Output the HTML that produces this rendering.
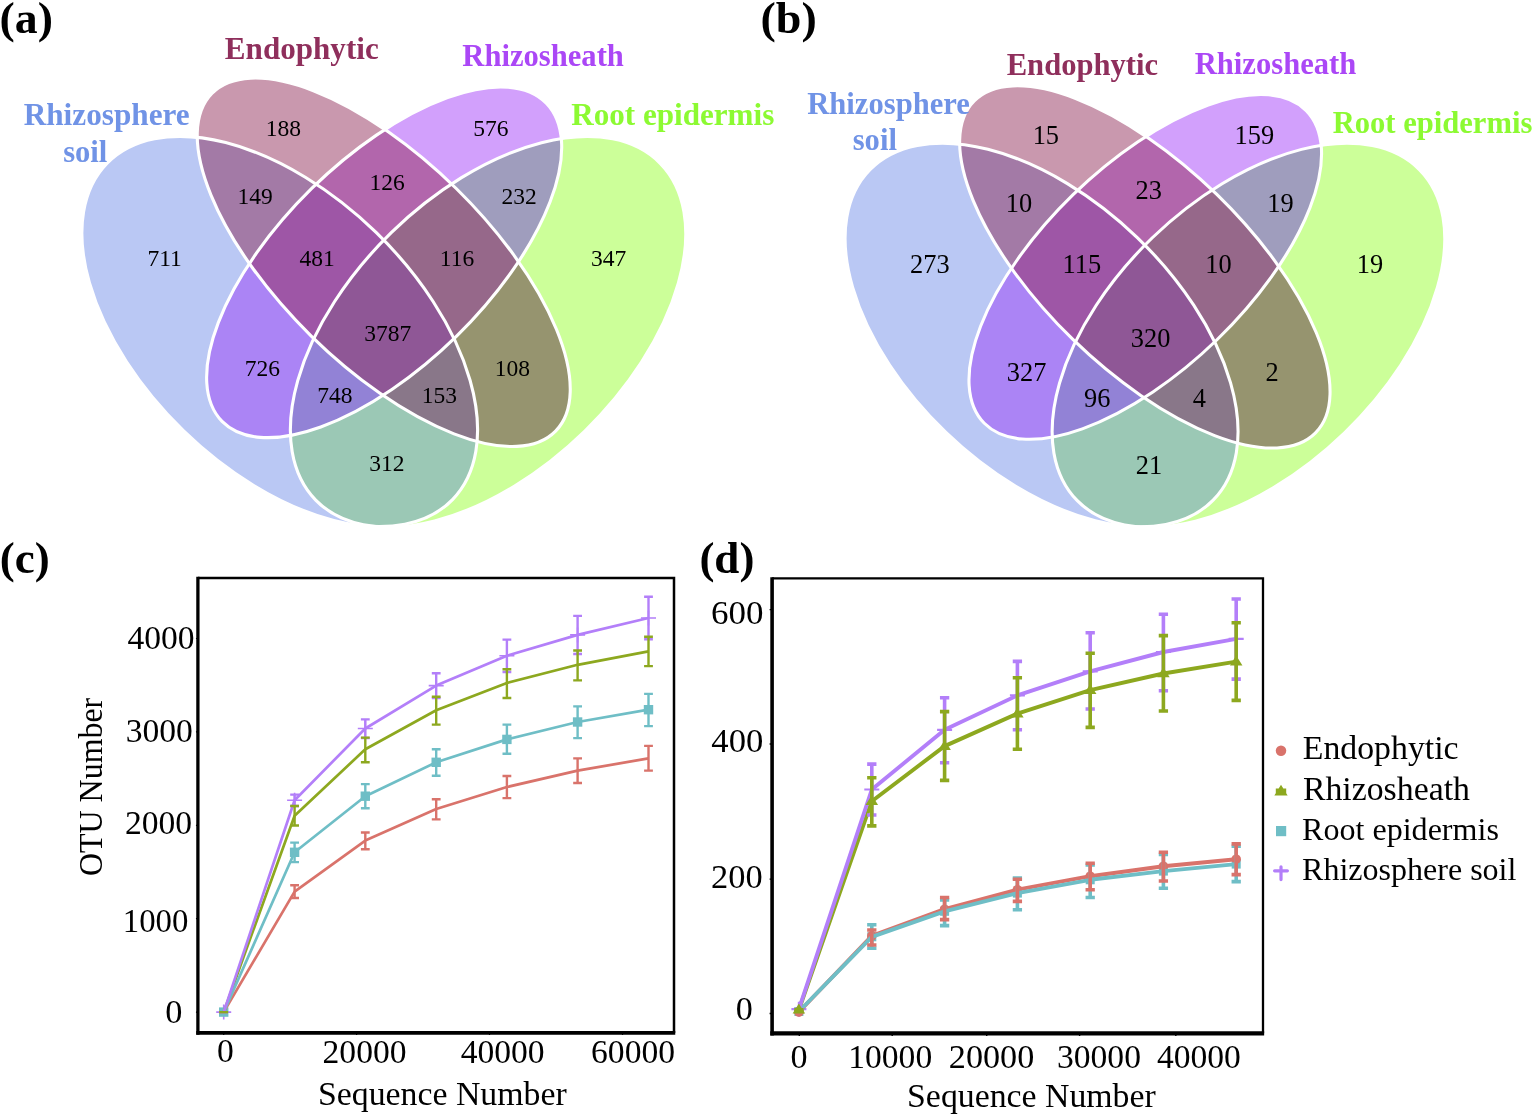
<!DOCTYPE html>
<html lang="en"><head><meta charset="utf-8"><title>Venn diagrams and rarefaction curves</title>
<style>html,body{margin:0;padding:0;background:#fff}body{width:1534px;height:1116px;overflow:hidden}svg{display:block;font-family:'Liberation Serif', 'Times New Roman', Times, serif}text{white-space:pre}</style>
</head><body>
<svg width="1534" height="1116" viewBox="0 0 1534 1116">
<rect width="1534" height="1116" fill="#fff"/>
<g id="venn-a">
<g>
<defs>
<clipPath id="aA"><ellipse cx="279.72" cy="331.52" rx="241.03" ry="138.25" transform="rotate(44.2 279.72 331.52)"/></clipPath>
<clipPath id="aB"><ellipse cx="383.74" cy="262.28" rx="240.9" ry="103.43" transform="rotate(44.49 383.74 262.28)"/></clipPath>
<clipPath id="aC"><ellipse cx="384.16" cy="262.3" rx="227.1" ry="103.44" transform="rotate(135.54 384.16 262.3)"/></clipPath>
<clipPath id="aD"><ellipse cx="488.08" cy="331.81" rx="240.88" ry="138.6" transform="rotate(135.69 488.08 331.81)"/></clipPath>
</defs>
<ellipse cx="279.72" cy="331.52" rx="241.03" ry="138.25" transform="rotate(44.2 279.72 331.52)" fill="#BAC8F4"/>
<ellipse cx="383.74" cy="262.28" rx="240.9" ry="103.43" transform="rotate(44.49 383.74 262.28)" fill="#C998AE"/>
<ellipse cx="384.16" cy="262.3" rx="227.1" ry="103.44" transform="rotate(135.54 384.16 262.3)" fill="#D2A0FC"/>
<ellipse cx="488.08" cy="331.81" rx="240.88" ry="138.6" transform="rotate(135.69 488.08 331.81)" fill="#CCFF99"/>
<g clip-path="url(#aB)"><ellipse cx="279.72" cy="331.52" rx="241.03" ry="138.25" transform="rotate(44.2 279.72 331.52)" fill="#A37AA6"/></g>
<g clip-path="url(#aC)"><ellipse cx="279.72" cy="331.52" rx="241.03" ry="138.25" transform="rotate(44.2 279.72 331.52)" fill="#AB84F5"/></g>
<g clip-path="url(#aD)"><ellipse cx="279.72" cy="331.52" rx="241.03" ry="138.25" transform="rotate(44.2 279.72 331.52)" fill="#9BC8B5"/></g>
<g clip-path="url(#aC)"><ellipse cx="383.74" cy="262.28" rx="240.9" ry="103.43" transform="rotate(44.49 383.74 262.28)" fill="#B266AC"/></g>
<g clip-path="url(#aD)"><ellipse cx="383.74" cy="262.28" rx="240.9" ry="103.43" transform="rotate(44.49 383.74 262.28)" fill="#96946F"/></g>
<g clip-path="url(#aD)"><ellipse cx="384.16" cy="262.3" rx="227.1" ry="103.44" transform="rotate(135.54 384.16 262.3)" fill="#9F9DBD"/></g>
<g clip-path="url(#aB)"><g clip-path="url(#aC)"><ellipse cx="279.72" cy="331.52" rx="241.03" ry="138.25" transform="rotate(44.2 279.72 331.52)" fill="#9E56A6"/></g></g>
<g clip-path="url(#aB)"><g clip-path="url(#aD)"><ellipse cx="279.72" cy="331.52" rx="241.03" ry="138.25" transform="rotate(44.2 279.72 331.52)" fill="#897789"/></g></g>
<g clip-path="url(#aC)"><g clip-path="url(#aD)"><ellipse cx="279.72" cy="331.52" rx="241.03" ry="138.25" transform="rotate(44.2 279.72 331.52)" fill="#9282D6"/></g></g>
<g clip-path="url(#aC)"><g clip-path="url(#aD)"><ellipse cx="383.74" cy="262.28" rx="240.9" ry="103.43" transform="rotate(44.49 383.74 262.28)" fill="#96688A"/></g></g>
<g clip-path="url(#aB)"><g clip-path="url(#aC)"><g clip-path="url(#aD)"><ellipse cx="279.72" cy="331.52" rx="241.03" ry="138.25" transform="rotate(44.2 279.72 331.52)" fill="#8F5796"/></g></g></g>
<ellipse cx="279.72" cy="331.52" rx="241.03" ry="138.25" transform="rotate(44.2 279.72 331.52)" fill="none" stroke="#fff" stroke-width="3.1"/>
<ellipse cx="383.74" cy="262.28" rx="240.9" ry="103.43" transform="rotate(44.49 383.74 262.28)" fill="none" stroke="#fff" stroke-width="3.1"/>
<ellipse cx="384.16" cy="262.3" rx="227.1" ry="103.44" transform="rotate(135.54 384.16 262.3)" fill="none" stroke="#fff" stroke-width="3.1"/>
<ellipse cx="488.08" cy="331.81" rx="240.88" ry="138.6" transform="rotate(135.69 488.08 331.81)" fill="none" stroke="#fff" stroke-width="3.1"/>
</g>
<g fill="#000">
<text x="265.79" y="135.5" font-size="23.5">188</text>
<text x="473.3" y="135.5" font-size="23.5">576</text>
<text x="237.57" y="203.9" font-size="23.5">149</text>
<text x="369.5" y="190.2" font-size="23.5">126</text>
<text x="501.44" y="203.9" font-size="23.5">232</text>
<text x="147.46" y="265.9" font-size="23.5">711</text>
<text x="299.55" y="265.9" font-size="23.5">481</text>
<text x="439.79" y="265.9" font-size="23.5">116</text>
<text x="591.12" y="265.9" font-size="23.5">347</text>
<text x="364.29" y="341" font-size="23.5">3787</text>
<text x="244.66" y="375.7" font-size="23.5">726</text>
<text x="494.69" y="375.7" font-size="23.5">108</text>
<text x="317.2" y="402.6" font-size="23.5">748</text>
<text x="421.67" y="402.6" font-size="23.5">153</text>
<text x="369.36" y="471.3" font-size="23.5">312</text>
</g>
<g font-weight="bold">
<text transform="matrix(1.0215 0 0 1 23.65 124.9)" font-size="30.6" fill="#7093E6">Rhizosphere</text>
<text x="63.15" y="161.8" font-size="30.6" fill="#7093E6">soil</text>
<text transform="matrix(1.0167 0 0 1 224.86 58.6)" font-size="30.6" fill="#8F2F5C">Endophytic</text>
<text x="462.37" y="65.7" font-size="30.6" fill="#AB47F6">Rhizosheath</text>
<text transform="matrix(1.0169 0 0 1 571.26 125)" font-size="30.6" fill="#8CFA32">Root epidermis</text>
</g>
</g>
<g id="venn-b">
<g transform="matrix(0.993 0 0 0.983 763.8 9.1)">
<defs>
<clipPath id="bA"><ellipse cx="279.72" cy="331.52" rx="241.03" ry="138.25" transform="rotate(44.2 279.72 331.52)"/></clipPath>
<clipPath id="bB"><ellipse cx="383.74" cy="262.28" rx="240.9" ry="103.43" transform="rotate(44.49 383.74 262.28)"/></clipPath>
<clipPath id="bC"><ellipse cx="384.16" cy="262.3" rx="227.1" ry="103.44" transform="rotate(135.54 384.16 262.3)"/></clipPath>
<clipPath id="bD"><ellipse cx="488.08" cy="331.81" rx="240.88" ry="138.6" transform="rotate(135.69 488.08 331.81)"/></clipPath>
</defs>
<ellipse cx="279.72" cy="331.52" rx="241.03" ry="138.25" transform="rotate(44.2 279.72 331.52)" fill="#BAC8F4"/>
<ellipse cx="383.74" cy="262.28" rx="240.9" ry="103.43" transform="rotate(44.49 383.74 262.28)" fill="#C998AE"/>
<ellipse cx="384.16" cy="262.3" rx="227.1" ry="103.44" transform="rotate(135.54 384.16 262.3)" fill="#D2A0FC"/>
<ellipse cx="488.08" cy="331.81" rx="240.88" ry="138.6" transform="rotate(135.69 488.08 331.81)" fill="#CCFF99"/>
<g clip-path="url(#bB)"><ellipse cx="279.72" cy="331.52" rx="241.03" ry="138.25" transform="rotate(44.2 279.72 331.52)" fill="#A37AA6"/></g>
<g clip-path="url(#bC)"><ellipse cx="279.72" cy="331.52" rx="241.03" ry="138.25" transform="rotate(44.2 279.72 331.52)" fill="#AB84F5"/></g>
<g clip-path="url(#bD)"><ellipse cx="279.72" cy="331.52" rx="241.03" ry="138.25" transform="rotate(44.2 279.72 331.52)" fill="#9BC8B5"/></g>
<g clip-path="url(#bC)"><ellipse cx="383.74" cy="262.28" rx="240.9" ry="103.43" transform="rotate(44.49 383.74 262.28)" fill="#B266AC"/></g>
<g clip-path="url(#bD)"><ellipse cx="383.74" cy="262.28" rx="240.9" ry="103.43" transform="rotate(44.49 383.74 262.28)" fill="#96946F"/></g>
<g clip-path="url(#bD)"><ellipse cx="384.16" cy="262.3" rx="227.1" ry="103.44" transform="rotate(135.54 384.16 262.3)" fill="#9F9DBD"/></g>
<g clip-path="url(#bB)"><g clip-path="url(#bC)"><ellipse cx="279.72" cy="331.52" rx="241.03" ry="138.25" transform="rotate(44.2 279.72 331.52)" fill="#9E56A6"/></g></g>
<g clip-path="url(#bB)"><g clip-path="url(#bD)"><ellipse cx="279.72" cy="331.52" rx="241.03" ry="138.25" transform="rotate(44.2 279.72 331.52)" fill="#897789"/></g></g>
<g clip-path="url(#bC)"><g clip-path="url(#bD)"><ellipse cx="279.72" cy="331.52" rx="241.03" ry="138.25" transform="rotate(44.2 279.72 331.52)" fill="#9282D6"/></g></g>
<g clip-path="url(#bC)"><g clip-path="url(#bD)"><ellipse cx="383.74" cy="262.28" rx="240.9" ry="103.43" transform="rotate(44.49 383.74 262.28)" fill="#96688A"/></g></g>
<g clip-path="url(#bB)"><g clip-path="url(#bC)"><g clip-path="url(#bD)"><ellipse cx="279.72" cy="331.52" rx="241.03" ry="138.25" transform="rotate(44.2 279.72 331.52)" fill="#8F5796"/></g></g></g>
<ellipse cx="279.72" cy="331.52" rx="241.03" ry="138.25" transform="rotate(44.2 279.72 331.52)" fill="none" stroke="#fff" stroke-width="3.1"/>
<ellipse cx="383.74" cy="262.28" rx="240.9" ry="103.43" transform="rotate(44.49 383.74 262.28)" fill="none" stroke="#fff" stroke-width="3.1"/>
<ellipse cx="384.16" cy="262.3" rx="227.1" ry="103.44" transform="rotate(135.54 384.16 262.3)" fill="none" stroke="#fff" stroke-width="3.1"/>
<ellipse cx="488.08" cy="331.81" rx="240.88" ry="138.6" transform="rotate(135.69 488.08 331.81)" fill="none" stroke="#fff" stroke-width="3.1"/>
</g>
<g fill="#000">
<text x="1032.67" y="144.3" font-size="26.4">15</text>
<text x="1234.52" y="144.4" font-size="26.4">159</text>
<text x="1005.69" y="212.1" font-size="26.4">10</text>
<text x="1135.58" y="199.1" font-size="26.4">23</text>
<text x="1267.37" y="212.1" font-size="26.4">19</text>
<text x="910.03" y="273.2" font-size="26.4">273</text>
<text x="1062.47" y="273.2" font-size="26.4">115</text>
<text x="1205.34" y="273.2" font-size="26.4">10</text>
<text x="1356.72" y="273.2" font-size="26.4">19</text>
<text x="1130.77" y="346.7" font-size="26.4">320</text>
<text x="1006.82" y="381.3" font-size="26.4">327</text>
<text x="1265.38" y="381.3" font-size="26.4">2</text>
<text x="1084.12" y="407.2" font-size="26.4">96</text>
<text x="1192.63" y="407.2" font-size="26.4">4</text>
<text x="1135.75" y="474.1" font-size="26.4">21</text>
</g>
<g font-weight="bold">
<text x="807.25" y="114.3" font-size="30.6" fill="#7093E6">Rhizosphere</text>
<text x="852.7" y="150.2" font-size="30.6" fill="#7093E6">soil</text>
<text x="1006.72" y="74.6" font-size="30.6" fill="#8F2F5C">Endophytic</text>
<text x="1194.77" y="74.4" font-size="30.6" fill="#AB47F6">Rhizosheath</text>
<text x="1332.64" y="132.7" font-size="30.6" fill="#8CFA32">Root epidermis</text>
</g>
</g>
<g id="chart-c">
<path d="M216.2 1012.1H231.2M223.7 1004.6V1019.6" stroke="#B37FF9" stroke-width="1.6" fill="none"/>
<path d="M287.1 800.2H302.1M294.6 792.7V807.7" stroke="#B37FF9" stroke-width="1.6" fill="none"/>
<path d="M357.8 728.5H372.8M365.3 721V736" stroke="#B37FF9" stroke-width="1.6" fill="none"/>
<path d="M428.7 685.6H443.7M436.2 678.1V693.1" stroke="#B37FF9" stroke-width="1.6" fill="none"/>
<path d="M499.4 655.7H514.4M506.9 648.2V663.2" stroke="#B37FF9" stroke-width="1.6" fill="none"/>
<path d="M570.1 634.9H585.1M577.6 627.4V642.4" stroke="#B37FF9" stroke-width="1.6" fill="none"/>
<path d="M641 618H656M648.5 610.5V625.5" stroke="#B37FF9" stroke-width="1.6" fill="none"/>
<rect x="219" y="1007.4" width="9.4" height="9.4" fill="#6FBEC6"/>
<rect x="289.9" y="847.6" width="9.4" height="9.4" fill="#6FBEC6"/>
<rect x="360.6" y="791.5" width="9.4" height="9.4" fill="#6FBEC6"/>
<rect x="431.5" y="757.6" width="9.4" height="9.4" fill="#6FBEC6"/>
<rect x="502.2" y="734.7" width="9.4" height="9.4" fill="#6FBEC6"/>
<rect x="572.9" y="717.3" width="9.4" height="9.4" fill="#6FBEC6"/>
<rect x="643.8" y="705" width="9.4" height="9.4" fill="#6FBEC6"/>
<polyline points="223.7,1012.1 294.6,891.6 365.3,840.6 436.2,809 506.9,787 577.6,770.6 648.5,758.4" stroke="#D9736B" stroke-width="2.7" fill="none" stroke-linejoin="round"/>
<polyline points="223.7,1012.1 294.6,815.7 365.3,749.3 436.2,710.3 506.9,683 577.6,664.8 648.5,651.3" stroke="#8DA81F" stroke-width="2.7" fill="none" stroke-linejoin="round"/>
<polyline points="223.7,1012.1 294.6,852.3 365.3,796.2 436.2,762.3 506.9,739.4 577.6,722 648.5,709.7" stroke="#6FBEC6" stroke-width="2.7" fill="none" stroke-linejoin="round"/>
<polyline points="223.7,1012.1 294.6,800.2 365.3,728.5 436.2,685.6 506.9,655.7 577.6,634.9 648.5,618" stroke="#B37FF9" stroke-width="2.7" fill="none" stroke-linejoin="round"/>
<path d="M219.3 1012.1H228.1M290.2 794.6H299M290.2 806H299M294.6 794.6V806M360.9 719.4H369.7M360.9 738H369.7M365.3 719.4V738M431.8 673.3H440.6M431.8 698H440.6M436.2 673.3V698M502.5 639.6H511.3M502.5 672H511.3M506.9 639.6V672M573.2 615.9H582M573.2 654H582M577.6 615.9V654M644.1 596.7H652.9M644.1 639.3H652.9M648.5 596.7V639.3" stroke="#B37FF9" stroke-width="2.4" fill="none"/>
<path d="M219.3 1012.1H228.1M290.2 842.6H299M290.2 862.1H299M294.6 842.6V862.1M360.9 784.1H369.7M360.9 808.3H369.7M365.3 784.1V808.3M431.8 749.3H440.6M431.8 775.8H440.6M436.2 749.3V775.8M502.5 724.6H511.3M502.5 753.7H511.3M506.9 724.6V753.7M573.2 706.4H582M573.2 738.1H582M577.6 706.4V738.1M644.1 693.9H652.9M644.1 726.1H652.9M648.5 693.9V726.1" stroke="#6FBEC6" stroke-width="2.4" fill="none"/>
<path d="M219.3 1012.1H228.1M290.2 885.3H299M290.2 898H299M294.6 885.3V898M360.9 832.5H369.7M360.9 849.3H369.7M365.3 832.5V849.3M431.8 799.2H440.6M431.8 819.4H440.6M436.2 799.2V819.4M502.5 776H511.3M502.5 798.1H511.3M506.9 776V798.1M573.2 758.4H582M573.2 783H582M577.6 758.4V783M644.1 745.9H652.9M644.1 770.6H652.9M648.5 745.9V770.6" stroke="#D9736B" stroke-width="2.4" fill="none"/>
<path d="M219.3 1012.1H228.1M290.2 806H299M290.2 825.5H299M294.6 806V825.5M360.9 737.6H369.7M360.9 762.3H369.7M365.3 737.6V762.3M431.8 696.7H440.6M431.8 724.6H440.6M436.2 696.7V724.6M502.5 669.2H511.3M502.5 698H511.3M506.9 669.2V698M573.2 650.5H582M573.2 680.4H582M577.6 650.5V680.4M644.1 636.7H652.9M644.1 666.1H652.9M648.5 636.7V666.1" stroke="#8DA81F" stroke-width="2.4" fill="none"/>
<g stroke="#000" fill="none">
<path d="M195.95 1012.1h1.3M195.95 918.7h1.3M195.95 825.3h1.3M195.95 731.9h1.3M195.95 638.5h1.3M223.7 1033.8v1.3M356.6 1033.8v1.3M489.5 1033.8v1.3M622.5 1033.8v1.3" stroke-width="1.2"/>
<path d="M197.9 578.1H674V1032.9" stroke-width="2.5"/>
<path d="M197.9 576.85V1034.8" stroke-width="3.3"/>
<path d="M196.25 1032.9H675.25" stroke-width="3.8"/>
</g>
<g fill="#000">
<text x="127.49" y="649.2" font-size="33.6">4000</text>
<text x="125.73" y="741.9" font-size="33.6">3000</text>
<text x="124.97" y="833.8" font-size="33.6">2000</text>
<text transform="matrix(0.9778 0 0 1 122.73 932)" font-size="33.6">1000</text>
<text transform="matrix(1.0224 0 0 1 165.21 1022.6)" font-size="33.6">0</text>
<text x="216.9" y="1062.3" font-size="33.6">0</text>
<text x="322.57" y="1062.5" font-size="33.6">20000</text>
<text x="460.69" y="1062.5" font-size="33.6">40000</text>
<text x="591.07" y="1062.5" font-size="33.6">60000</text>
<text x="317.99" y="1104.7" font-size="33.8">Sequence Number</text>
<text transform="matrix(0 -0.9395 1 0 101.5 875.98)" font-size="34">OTU Number</text>
</g>
</g>
<g id="chart-d">
<path d="M791.4 1009.2H806.4M798.9 1001.7V1016.7" stroke="#B37FF9" stroke-width="2.2" fill="none"/>
<path d="M864.3 789.5H879.3M871.8 782V797" stroke="#B37FF9" stroke-width="2.2" fill="none"/>
<path d="M937.1 729.8H952.1M944.6 722.3V737.3" stroke="#B37FF9" stroke-width="2.2" fill="none"/>
<path d="M1009.9 695.4H1024.9M1017.4 687.9V702.9" stroke="#B37FF9" stroke-width="2.2" fill="none"/>
<path d="M1082.7 671.3H1097.7M1090.2 663.8V678.8" stroke="#B37FF9" stroke-width="2.2" fill="none"/>
<path d="M1155.9 652H1170.9M1163.4 644.5V659.5" stroke="#B37FF9" stroke-width="2.2" fill="none"/>
<path d="M1228.7 638.9H1243.7M1236.2 631.4V646.4" stroke="#B37FF9" stroke-width="2.2" fill="none"/>
<rect x="794.4" y="1007" width="9" height="9" fill="#6FBEC6"/>
<rect x="867.3" y="932.3" width="9" height="9" fill="#6FBEC6"/>
<rect x="940.1" y="906.8" width="9" height="9" fill="#6FBEC6"/>
<rect x="1012.9" y="888.6" width="9" height="9" fill="#6FBEC6"/>
<rect x="1085.7" y="875.3" width="9" height="9" fill="#6FBEC6"/>
<rect x="1158.9" y="866.6" width="9" height="9" fill="#6FBEC6"/>
<rect x="1231.7" y="859.6" width="9" height="9" fill="#6FBEC6"/>
<circle cx="798.9" cy="1012" r="4.8" fill="#D9736B"/>
<circle cx="871.8" cy="935.9" r="4.8" fill="#D9736B"/>
<circle cx="944.6" cy="909.2" r="4.8" fill="#D9736B"/>
<circle cx="1017.4" cy="889.7" r="4.8" fill="#D9736B"/>
<circle cx="1090.2" cy="876.2" r="4.8" fill="#D9736B"/>
<circle cx="1163.4" cy="866.2" r="4.8" fill="#D9736B"/>
<circle cx="1236.2" cy="859.2" r="4.8" fill="#D9736B"/>
<polyline points="798.9,1012 871.8,935.9 944.6,909.2 1017.4,889.7 1090.2,876.2 1163.4,866.2 1236.2,859.2" stroke="#D9736B" stroke-width="3.9" fill="none" stroke-linejoin="round"/>
<polyline points="798.9,1009.8 871.8,801.2 944.6,746.1 1017.4,713.6 1090.2,690.2 1163.4,673.5 1236.2,661.7" stroke="#8DA81F" stroke-width="3.9" fill="none" stroke-linejoin="round"/>
<polyline points="798.9,1011.5 871.8,936.8 944.6,911.3 1017.4,893.1 1090.2,879.8 1163.4,871.1 1236.2,864.1" stroke="#6FBEC6" stroke-width="3.9" fill="none" stroke-linejoin="round"/>
<polyline points="798.9,1009.2 871.8,789.5 944.6,729.8 1017.4,695.4 1090.2,671.3 1163.4,652 1236.2,638.9" stroke="#B37FF9" stroke-width="3.9" fill="none" stroke-linejoin="round"/>
<path d="M794.25 1009.2H803.55M867.15 764.1H876.45M867.15 815H876.45M871.8 764.1V815M939.95 697.8H949.25M939.95 762.8H949.25M944.6 697.8V762.8M1012.75 661.4H1022.05M1012.75 729.8H1022.05M1017.4 661.4V729.8M1085.55 632.8H1094.85M1085.55 709H1094.85M1090.2 632.8V709M1158.75 614.2H1168.05M1158.75 690.8H1168.05M1163.4 614.2V690.8M1231.55 599H1240.85M1231.55 679.1H1240.85M1236.2 599V679.1" stroke="#B37FF9" stroke-width="3.6" fill="none"/>
<path d="M794.25 1011.5H803.55M867.15 924.8H876.45M867.15 948.2H876.45M871.8 924.8V948.2M939.95 900H949.25M939.95 925.6H949.25M944.6 900V925.6M1012.75 878H1022.05M1012.75 909.7H1022.05M1017.4 878V909.7M1085.55 865H1094.85M1085.55 897.5H1094.85M1090.2 865V897.5M1158.75 854.4H1168.05M1158.75 888.3H1168.05M1163.4 854.4V888.3M1231.55 846.3H1240.85M1231.55 881.6H1240.85M1236.2 846.3V881.6" stroke="#6FBEC6" stroke-width="3.6" fill="none"/>
<path d="M794.25 1012H803.55M867.15 930H876.45M867.15 945H876.45M871.8 930V945M939.95 897.5H949.25M939.95 919.6H949.25M944.6 897.5V919.6M1012.75 879.3H1022.05M1012.75 901.4H1022.05M1017.4 879.3V901.4M1085.55 863.2H1094.85M1085.55 889.7H1094.85M1090.2 863.2V889.7M1158.75 852.3H1168.05M1158.75 881H1168.05M1163.4 852.3V881M1231.55 843.9H1240.85M1231.55 874.6H1240.85M1236.2 843.9V874.6" stroke="#D9736B" stroke-width="3.6" fill="none"/>
<path d="M794.25 1009.8H803.55M867.15 777.8H876.45M867.15 825.9H876.45M871.8 777.8V825.9M939.95 711.6H949.25M939.95 780.4H949.25M944.6 711.6V780.4M1012.75 677.8H1022.05M1012.75 749.3H1022.05M1017.4 677.8V749.3M1085.55 653.3H1094.85M1085.55 727.4H1094.85M1090.2 653.3V727.4M1158.75 635.6H1168.05M1158.75 711H1168.05M1163.4 635.6V711M1231.55 622.7H1240.85M1231.55 700.4H1240.85M1236.2 622.7V700.4" stroke="#8DA81F" stroke-width="3.6" fill="none"/>
<path d="M798.9 1003.6L805.15 1013.6L792.65 1013.6Z" fill="#8DA81F"/>
<path d="M871.8 795L878.05 805L865.55 805Z" fill="#8DA81F"/>
<path d="M944.6 739.9L950.85 749.9L938.35 749.9Z" fill="#8DA81F"/>
<path d="M1017.4 707.4L1023.65 717.4L1011.15 717.4Z" fill="#8DA81F"/>
<path d="M1090.2 684L1096.45 694L1083.95 694Z" fill="#8DA81F"/>
<path d="M1163.4 667.3L1169.65 677.3L1157.15 677.3Z" fill="#8DA81F"/>
<path d="M1236.2 655.5L1242.45 665.5L1229.95 665.5Z" fill="#8DA81F"/>
<g stroke="#000" fill="none">
<path d="M769.6 1013.5h1.7M769.6 879.1h1.7M769.6 744h1.7M769.6 609.6h1.7M799.3 1034.4v1.7M892.2 1034.4v1.7M986.7 1034.4v1.7M1079.6 1034.4v1.7M1175.8 1034.4v1.7" stroke-width="1.4"/>
<path d="M772.1 578.3H1263V1033.3" stroke-width="2.3"/>
<path d="M772.1 577.15V1035.4" stroke-width="3.6"/>
<path d="M770.3 1033.3H1264.15" stroke-width="4.2"/>
</g>
<g fill="#000">
<text transform="matrix(1.0417 0 0 1 711.11 623.5)" font-size="33.6">600</text>
<text transform="matrix(1.0316 0 0 1 711.31 751.5)" font-size="33.6">400</text>
<text transform="matrix(1.0246 0 0 1 711.05 888.4)" font-size="33.6">200</text>
<text transform="matrix(1.0154 0 0 1 735.82 1020.1)" font-size="33.6">0</text>
<text transform="matrix(1.0154 0 0 1 790.62 1067.8)" font-size="33.6">0</text>
<text x="848.26" y="1067.8" font-size="33.6">10000</text>
<text transform="matrix(1.0169 0 0 1 948.86 1067.8)" font-size="33.6">20000</text>
<text x="1056.98" y="1067.8" font-size="33.6">30000</text>
<text x="1156.94" y="1067.8" font-size="33.6">40000</text>
<text x="907.09" y="1107.3" font-size="33.8">Sequence Number</text>
</g>
</g>
<g id="legend" fill="#000">
<circle cx="1281" cy="750.7" r="5.25" fill="#D9736B"/>
<text x="1302.79" y="759.4" font-size="33.8">Endophytic</text>
<path d="M1281 784.7L1287.65 795.61L1274.35 795.61ZM1275.8 788.5h10.4v7.11h-10.4z" fill="#8DA81F"/>
<text x="1302.88" y="799.8" font-size="33.8">Rhizosheath</text>
<rect x="1276" y="826" width="10.2" height="10.2" fill="#6FBEC6"/>
<text transform="matrix(1.0348 0 0 1 1302.04 840.2)" font-size="31">Root epidermis</text>
<path d="M1274.6 870.8H1287.4M1281 866.8V879.6" stroke="#B37FF9" stroke-width="3.2" stroke-linecap="round" fill="none"/>
<text transform="matrix(1.0334 0 0 1 1302.04 880.4)" font-size="31">Rhizosphere soil</text>
</g>
<g id="panel-labels" font-weight="bold" fill="#000">
<text transform="matrix(1.0178 0 0 1 -0.41 32.7)" font-size="45">(a)</text>
<text transform="matrix(1.022 0 0 1 760.53 32.5)" font-size="45">(b)</text>
<text x="-0.33" y="573.3" font-size="45">(c)</text>
<text x="699.39" y="573" font-size="45">(d)</text>
</g>
</svg>
</body></html>
